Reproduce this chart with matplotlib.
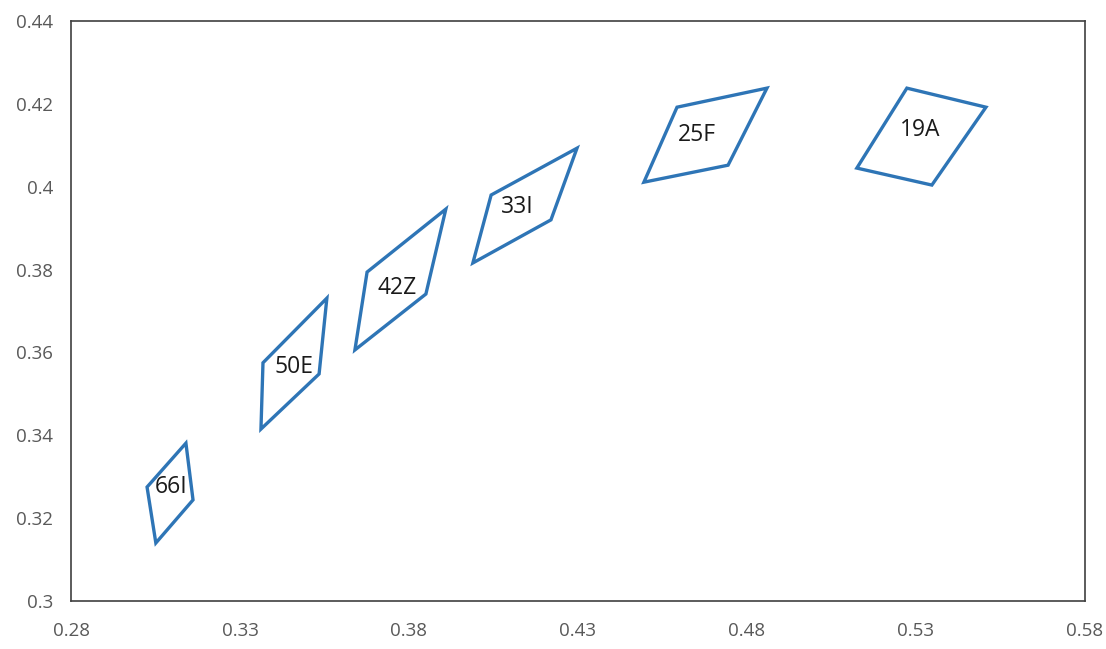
import matplotlib.pyplot as plt
from matplotlib.patches import Polygon
import numpy as np

# corner points of each shape (x, y)
labels = ['66I', '50E', '42Z', '33I', '25F', '19A']
shape_x = [
    [0.3140, 0.3161, 0.3051, 0.3025],
    [0.3557, 0.3534, 0.3362, 0.3368],
    [0.3909, 0.3850, 0.3640, 0.3676],
    [0.4297, 0.4220, 0.3989, 0.4043],
    [0.4859, 0.4744, 0.4495, 0.4593],
    [0.5273, 0.5507, 0.5347, 0.5125],
]
shape_y = [
    [0.3381, 0.3244, 0.3140, 0.3275],
    [0.3731, 0.3548, 0.3415, 0.3575],
    [0.3946, 0.3741, 0.3606, 0.3794],
    [0.4093, 0.3920, 0.3816, 0.3980],
    [0.4238, 0.4052, 0.4011, 0.4192],
    [0.4238, 0.4192, 0.4004, 0.4045],
]
label_x = [0.3096, 0.3460, 0.3765, 0.4121, 0.4652, 0.5312]
label_y = [0.3275, 0.3565, 0.3756, 0.3951, 0.4125, 0.4137]

x_ticks = [0.28, 0.33, 0.38, 0.43, 0.48, 0.53, 0.58]
y_ticks = [0.3, 0.32, 0.34, 0.36, 0.38, 0.4, 0.42, 0.44]

plt.rcParams['font.family'] = ['Open Sans', 'DejaVu Sans']

fig = plt.figure(figsize=(11.06, 6.49), dpi=100)
ax = fig.add_axes([0.0642, 0.074, 0.9168, 0.8936])

blue = '#2E75B6'
for xs, ys in zip(shape_x, shape_y):
    ax.add_patch(Polygon(np.column_stack([xs, ys]), closed=True, fill=False,
                         edgecolor=blue, linewidth=2.4, joinstyle='miter'))

for lab, lx, ly in zip(labels, label_x, label_y):
    ax.text(lx, ly, lab, fontsize=16.5, color='#1a1a1a', ha='center', va='center')

ax.set_xlim(0.28, 0.58)
ax.set_ylim(0.3, 0.44)
ax.set_xticks(x_ticks)
ax.set_xticklabels([f'{v:g}' for v in x_ticks])
ax.set_yticks(y_ticks)
ax.set_yticklabels([f'{v:g}' for v in y_ticks])
ax.tick_params(axis='x', length=0, pad=15, labelsize=13.5, labelcolor='#595959')
ax.tick_params(axis='y', length=0, pad=13, labelsize=13.5, labelcolor='#595959')
for sp in ax.spines.values():
    sp.set_color('#404040')
    sp.set_linewidth(1.2)

fig.savefig('out.png', dpi=100)
